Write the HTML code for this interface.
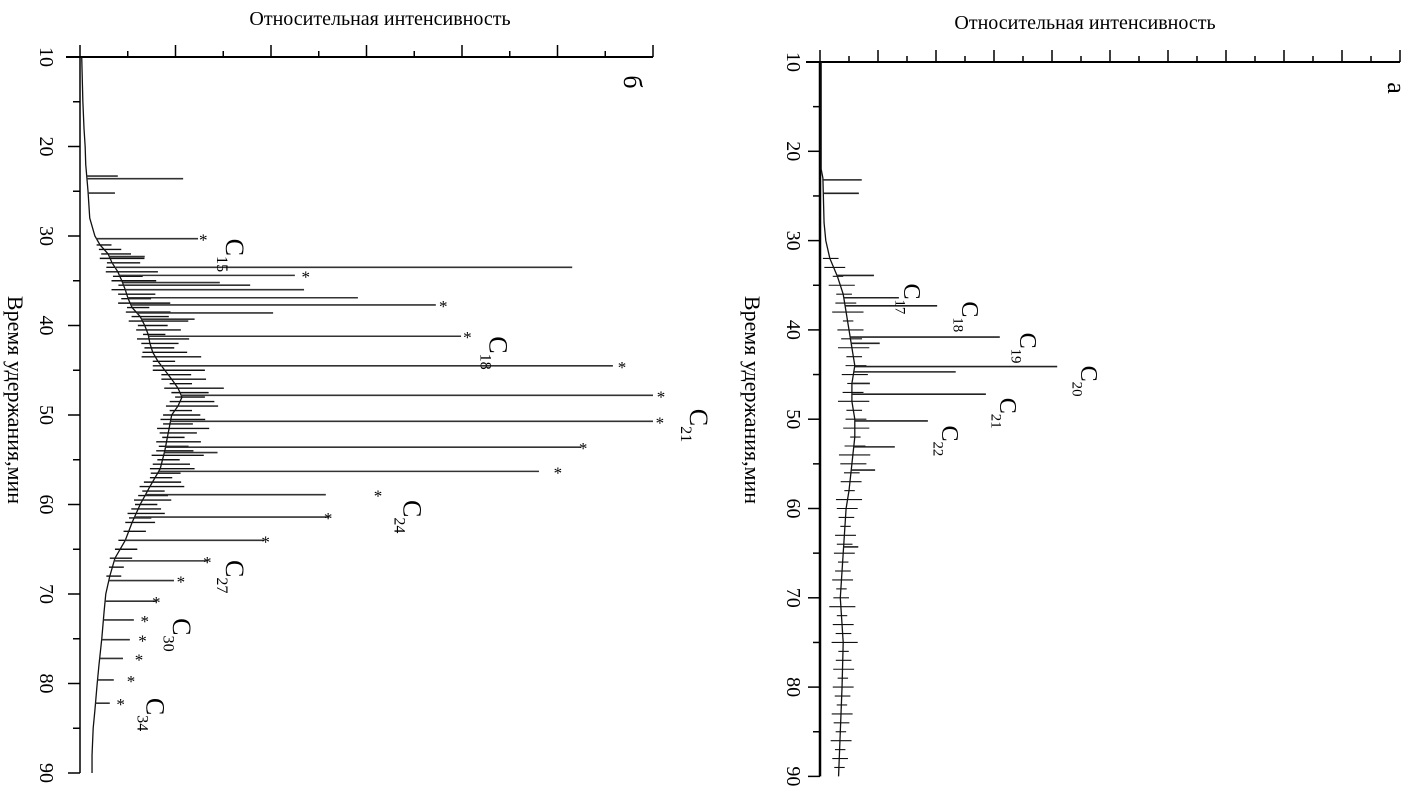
<!DOCTYPE html>
<html><head><meta charset="utf-8">
<style>
html,body{margin:0;padding:0;background:#fff;}
svg{display:block;font-family:"Liberation Serif",serif;}
</style></head>
<body>
<svg id="fig" width="1402" height="802" viewBox="0 0 1402 802">
  <text x="380" y="25" font-size="20" text-anchor="middle">Относительная интенсивность</text>
  <text x="1085" y="29" font-size="20" text-anchor="middle">Относительная интенсивность</text>
  <text transform="translate(8,400) rotate(90)" font-size="22" text-anchor="middle">Время удержания,мин</text>
  <text transform="translate(745,400) rotate(90)" font-size="22" text-anchor="middle">Время удержания,мин</text>
  <text transform="translate(624,82) rotate(90)" font-size="26" text-anchor="middle">б</text>
  <text transform="translate(1388,88) rotate(90)" font-size="26" text-anchor="middle">а</text>
  <g id="left"></g>
  <g id="right"></g>
</svg>
<script>
// ---- Panel б (left) data ----
const leftBaseT = [10,15,18,20,22,25,28,30,31,32,33,34,35,36,37,38,39,40,41,42,43,44,45,46,47,48,49,50,52,54,56,58,60,62,64,66,68,70,72,75,78,80,83,85,88,90];
const leftBaseV = [0.3,0.5,0.7,0.9,1.0,1.4,1.7,2.6,3.5,4.9,5.6,6.6,7.3,7.9,8.4,9.1,10.5,11.3,11.9,12.2,12.7,13.6,14.8,16.0,17.1,17.8,17.1,16.0,15.4,14.8,14.0,12.2,10.5,9.1,7.9,6.1,5.2,4.5,4.2,3.8,3.3,3.0,2.6,2.3,2.1,2.1];
const leftPeakT = [23.3,23.6,25.2,30.3,32.3,33.0,33.5,34.4,35.2,35.5,36.0,36.9,37.7,38.6,39.3,41.2,44.5,47.8,50.7,53.6,54.2,56.3,58.9,61.4,64.0,66.3,68.5,70.8,72.9,75.1,77.2,79.6,82.2];
const leftPeakV = [6.6,18.0,6.1,20.6,11.3,10.5,85.9,37.5,24.4,29.7,39.1,48.5,62.1,33.7,20.0,66.5,93.0,100.0,100.0,87.4,24.0,80.1,42.9,43.5,32.1,22.3,16.4,13.4,9.4,8.7,7.5,5.9,5.2];
const leftStarT = [30.3,34.4,37.7,41.2,44.5,47.8,50.7,53.6,56.3,58.9,61.4,64.0,66.3,68.5,70.8,72.9,75.1,77.2,79.6,82.2];
const leftStarV = [21.5,39.4,63.4,67.6,94.6,101.4,101.2,87.8,83.4,52.0,43.3,32.4,22.2,17.6,13.3,11.3,10.9,10.3,8.9,7.1];
const leftGrassT = [31,31.5,32,32.5,33,33.5,34,34.5,35,35.5,36,36.5,37,37.5,38,38.5,39,39.5,40,40.5,41,41.5,42,42.5,43,43.5,44,44.5,45,45.5,46,46.5,47,47.5,48,48.5,49,49.5,50,50.5,51,51.5,52,52.5,53,53.5,54,54.5,55,55.5,56,56.5,57,57.5,58,58.5,59,59.5,60,60.5,61,61.5,62,63,64,65,66,67,68];
const leftGrassV = [2,3,4,6,3,5,7,4,6,3,8,5,4,7,3,6,5,8,4,6,3,7,5,4,6,8,3,5,7,4,6,3,8,5,4,6,7,3,5,6,4,7,5,3,6,4,5,7,3,5,6,4,3,5,6,3,4,5,3,4,5,3,4,3,4,3,3,2,2];
const leftLabels = [["15",30.3,25.5],["18",41.2,71.5],["21",49.3,106.5],["24",59.5,56.5],["27",66.2,25.5],["30",72.7,16.2],["34",81.6,11.6]];

// ---- Panel а (right) data ----
const rightBaseT = [10,22,23,28,30,32,34,36,38,40,42,44,46,48,50,52,55,58,60,65,70,75,80,85,90];
const rightBaseV = [0.2,0.2,0.5,0.7,1.0,1.7,3.0,4.0,4.5,5.0,5.5,6.0,5.5,5.5,6.0,6.0,5.5,5.0,4.5,4.0,3.5,4.0,3.8,3.5,3.2];
const rightPeakT = [23.2,24.7,33.9,36.4,37.3,40.8,41.5,44.1,44.7,46.0,47.2,50.2,53.1,55.7,64.3];
const rightPeakV = [7.2,6.7,9.3,13.6,20.2,31.0,10.3,40.9,23.4,8.6,28.6,18.6,12.9,9.5,6.6];
const rightGrassT = [32,33,34,35,36,37,38,39,40,41,42,43,44,45,46,47,48,49,50,51,52,53,54,55,56,57,58,59,60,61,62,63,64,65,66,67,68,69,70,71,72,73,74,75,76,77,78,79,80,81,82,83,84,85,86,87,88,89];
const rightGrassV = [1.5,2,1,2.5,1.5,2,3,1,2.5,2,3,1.5,2,2.5,1,2,3,1.5,2,2.5,1,2,3,2.5,1.5,2,1,2.5,2,1.5,1,2,1.5,2,1,1.5,2,1,1.5,2.5,1,2,1.5,2.5,1,1.5,2,1,2,1.5,1,2,1.5,1,2,1,1.5,1];
const rightLabels = [["17",34.8,14.5],["18",36.8,24.5],["19",40.3,34.5],["20",44.0,45.0],["21",47.6,31.0],["22",50.7,21.0]];

const NS="http://www.w3.org/2000/svg";
function mk(tag,attrs,parent){const e=document.createElementNS(NS,tag);for(const k in attrs)e.setAttribute(k,attrs[k]);parent.appendChild(e);return e;}
function interp(T,V,t){if(t<=T[0])return V[0];for(let i=1;i<T.length;i++){if(t<=T[i]){const f=(t-T[i-1])/(T[i]-T[i-1]);return V[i-1]+f*(V[i]-V[i-1]);}}return V[V.length-1];}

function panel(g,cfg){
  const yS=t=>cfg.y0+(t-10)*cfg.py;
  const xS=v=>cfg.x0+v*cfg.px;
  const ax=mk('line',{x1:cfg.x0,y1:cfg.y0,x2:cfg.x0,y2:yS(90),stroke:'#000','stroke-width':cfg.axW},g);
  
  
  const tx=mk('line',{x1:cfg.x0-14,y1:cfg.y0,x2:cfg.xEnd,y2:cfg.y0,stroke:'#000','stroke-width':2},g);
  
  
  for(let t=10;t<=90;t+=5){
    const major=(t%10===0);
    const tk=mk('line',{x1:cfg.x0-(major?12:7),y1:yS(t),x2:cfg.x0,y2:yS(t),stroke:'#000','stroke-width':1.5},g);
    
    
    if(major){
      const lb=mk('text',{transform:`translate(${cfg.x0-cfg.lblOff},${yS(t)}) rotate(90)`,'font-size':20,'text-anchor':'middle'},g);
      lb.textContent=String(t);
      
      
    }
  }
  for(let i=0;i<=cfg.nTicks;i++){
    const x=cfg.x0+i*cfg.tickStep;
    if(x>cfg.xEnd+1)break;
    const tk=mk('line',{x1:x,y1:cfg.y0-(i%2===0?12:6),x2:x,y2:cfg.y0,stroke:'#000','stroke-width':1.5},g);
    
    
  }
  let pts=cfg.bT.map((t,i)=>xS(cfg.bV[i])+','+yS(t)).join(' ');
  const bl=mk('polyline',{points:pts,fill:'none',stroke:'#111','stroke-width':1.3},g);
  
  
  cfg.gT.forEach((t,i)=>{
    const b=interp(cfg.bT,cfg.bV,t);
    const l=mk('line',{x1:xS(b-cfg.gV[i]*cfg.gLeft),y1:yS(t),x2:xS(b+cfg.gV[i]),y2:yS(t),stroke:'#111','stroke-width':cfg.gW},g);
    
    
  });
  cfg.pT.forEach((t,i)=>{
    const b=interp(cfg.bT,cfg.bV,t);
    const l=mk('line',{x1:xS(b),y1:yS(t),x2:xS(cfg.pV[i]),y2:yS(t),stroke:cfg.pCol,'stroke-width':1.6},g);
    
    
  });
  if(cfg.sT){cfg.sT.forEach((t,i)=>{
    const s=mk('text',{x:xS(cfg.sV[i]),y:yS(t)+7,'font-size':17,'text-anchor':'middle'},g);
    s.textContent='*';
    
    
  });}
  cfg.labels.forEach(L=>{
    const x=xS(L[2]),y=yS(L[1]);
    const tt=mk('text',{transform:`translate(${x},${y}) rotate(90)`,'font-size':cfg.cSize},g);
    
    
    const c=mk('tspan',{},tt);c.textContent='C';
    const sb=mk('tspan',{dy:cfg.cSize*0.35,'font-size':cfg.cSize*0.62},tt);sb.textContent=L[0];
  });
}

panel(document.getElementById('left'),{x0:80,y0:57,py:8.95,px:5.73,xEnd:653,axW:1.5,tickStep:47.75,nTicks:12,lblOff:40,gLeft:0.3,gW:1.4,
  bT:leftBaseT,bV:leftBaseV,pT:leftPeakT,pV:leftPeakV,gT:leftGrassT,gV:leftGrassV,sT:leftStarT,sV:leftStarV,labels:leftLabels,pCol:'#333',cSize:26});
panel(document.getElementById('right'),{x0:820,y0:62,py:8.93,px:5.8,xEnd:1400,axW:2.5,tickStep:29,nTicks:20,lblOff:33,gLeft:0.8,gW:1.1,
  bT:rightBaseT,bV:rightBaseV,pT:rightPeakT,pV:rightPeakV,gT:rightGrassT,gV:rightGrassV,sT:null,sV:null,labels:rightLabels,pCol:'#222',cSize:24});
</script>
</body></html>
